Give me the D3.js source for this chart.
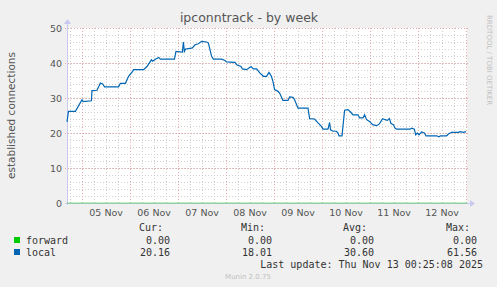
<!DOCTYPE html>
<html lang='en'>
<head>
<meta charset='utf-8'>
<script src='https://cdnjs.cloudflare.com/ajax/libs/d3/7.8.5/d3.min.js'></script>
<title>ipconntrack - by week</title>
<style>
body { margin:0; background:#f0f0f0; overflow:hidden; }
text { font-family:'DejaVu Sans', sans-serif; }
.mono { font-family:'DejaVu Sans Mono', monospace; font-size:10px; fill:#333; }
</style>
</head>
<body>
<script>
// hours after the graph start (Nov 4 16:25 UTC), and the "local" value there
var hrs = [0, 0.75, 4.2, 7.5, 8, 12.2, 12.5, 15, 16.7, 17.8, 18.8, 25.8, 26.7, 29.2, 30.8, 32.8, 33.3, 38.3,
   40, 42.2, 42.8, 44.2, 45.8, 46.7, 53.7, 54.5, 57.7, 58.2, 58.7, 59.3, 61.5, 62.7, 64, 65.7, 67.3, 69.8,
   70.7, 72.3, 73.2, 77.3, 79, 79.8, 84, 84.8, 87, 87.7, 89.8, 92, 93.2, 94.8, 96.5, 98.2, 99.8, 101, 102.2,
   103, 103.8, 105.5, 106.3, 108, 110.5, 111.3, 113, 113.8, 115.5, 120.5, 121.3, 123.8, 125.5, 127.2, 128,
   130.5, 131.3, 131.8, 133, 134.7, 135.5, 136, 137.5, 138.8, 140.5, 141.8, 143, 145.5, 146.3, 148, 148.8,
   149.8, 151.3, 152.8, 154.8, 156.2, 157.8, 159, 160.2, 161.2, 162, 163.2, 164, 164.8, 171.5, 172.3, 173.7,
   174.3, 175.2, 176, 177.3, 178.7, 179.5, 184.8, 186, 186.8, 189.8, 190.7, 192.3, 195.7, 196.5, 198.2, 199.5];
var local = [23.2, 26.2, 26.2, 29.5, 29.0, 29.2, 32.1, 32.2, 34.3, 34.0, 33.2, 33.2, 34.2, 34.2, 36.2, 37.6, 38.1, 38.1,
   39.0, 40.9, 40.5, 41.1, 41.6, 41.1, 41.1, 43.3, 43.1, 46.0, 43.3, 44.0, 44.2, 44.3, 45.2, 45.5, 46.2, 46.0,
   45.7, 41.9, 41.1, 41.1, 40.7, 40.3, 40.2, 39.5, 39.0, 38.3, 38.1, 39.0, 38.3, 38.3, 37.1, 36.2, 36.2, 37.3, 36.2,
   34.7, 32.4, 31.9, 31.4, 29.3, 29.3, 30.3, 30.2, 29.5, 27.1, 27.1, 24.1, 24.0, 22.9, 21.9, 21.1,
   21.1, 23.0, 20.9, 20.5, 20.5, 20.0, 19.2, 19.2, 26.5, 26.7, 26.0, 25.2, 25.2, 24.3, 24.3, 25.2,
   23.8, 23.3, 22.4, 22.1, 22.6, 24.1, 23.8, 23.6, 24.1, 22.7, 22.4, 21.4, 21.1, 21.1, 21.4, 21.1,
   19.5, 20.0, 19.5, 20.3, 20.0, 19.2, 19.2, 18.9, 19.2, 19.2, 19.7, 20.2, 20.2, 20.4, 20.2, 20.4];
var fwdHrs = [0, 200];
var forward = [0, 0];

var dayLabels = ['05 Nov', '06 Nov', '07 Nov', '08 Nov', '09 Nov', '10 Nov', '11 Nov', '12 Nov'];
var yTicks = [0, 10, 20, 30, 40, 50];
var seriesNames = ['forward', 'local'];
var seriesColors = ['#00cc00', '#0066b3'];
var curVals = ['0.00', '20.16'];
var minVals = ['0.00', '18.01'];
var avgVals = ['0.00', '30.60'];
var maxVals = ['0.00', '61.56'];

var W = 497, H = 287;
var pL = 67, pR = 467, pT = 28, pB = 203;
var t0 = new Date(Date.UTC(2025, 10, 4, 16, 25));
var t1 = new Date(Date.UTC(2025, 10, 13, 0, 25));
function toTime(h) { return new Date(t0.getTime() + h * 3600000); }

var x = d3.scaleUtc().domain([t0, t1]).range([pL, pR]);
var y = d3.scaleLinear().domain([0, 50]).range([pB, pT]);

var svg = d3.select('body').append('svg').attr('width', W).attr('height', H);
svg.append('rect').attr('width', W).attr('height', H).attr('fill', '#f0f0f0');
svg.append('rect').attr('x', pL).attr('y', pT).attr('width', pR - pL).attr('height', pB - pT).attr('fill', '#fff');

// minor grid
var g = svg.append('g').attr('shape-rendering', 'crispEdges');
var minorX = d3.utcHour.every(6).range(t0, t1);
g.selectAll('.mx').data(minorX).enter().append('line')
   .attr('x1', function(d){return Math.round(x(d)) + 0.5;}).attr('x2', function(d){return Math.round(x(d)) + 0.5;})
   .attr('y1', pT).attr('y2', pB)
   .style('stroke', '#cfcfcf').style('stroke-dasharray', '1,2');
g.selectAll('.my').data(d3.range(2, 50, 2)).enter().append('line')
   .attr('x1', pL).attr('x2', pR)
   .attr('y1', function(d){return Math.round(y(d)) + 0.5;}).attr('y2', function(d){return Math.round(y(d)) + 0.5;})
   .style('stroke', '#cfcfcf').style('stroke-dasharray', '1,2');
// major grid
var days = d3.utcDay.range(t0, t1);
g.selectAll('.Mx').data(days).enter().append('line')
   .attr('x1', function(d){return Math.round(x(d)) + 0.5;}).attr('x2', function(d){return Math.round(x(d)) + 0.5;})
   .attr('y1', pT).attr('y2', pB + 2)
   .style('stroke', '#e8acac').style('stroke-dasharray', '1,2');
g.selectAll('.My').data(yTicks.slice(1)).enter().append('line')
   .attr('x1', pL - 2).attr('x2', pR + 1)
   .attr('y1', function(d){return Math.round(y(d)) + 0.5;}).attr('y2', function(d){return Math.round(y(d)) + 0.5;})
   .style('stroke', '#e8acac').style('stroke-dasharray', '1,2');

// axes
g.append('line').attr('x1', pL + 0.5).attr('x2', pL + 0.5).attr('y1', pB + 2).attr('y2', pT - 5).style('stroke', '#c8c8f0');
g.append('line').attr('x1', pL - 2).attr('x2', pR + 3).attr('y1', pB + 0.5).attr('y2', pB + 0.5).style('stroke', '#c8c8f0');
svg.append('path').attr('d', 'M' + (pL - 3) + ',' + (pT - 4) + 'L' + (pL + 0.5) + ',' + (pT - 9) + 'L' + (pL + 4) + ',' + (pT - 4) + 'Z').attr('fill', '#c8c8f0');
svg.append('path').attr('d', 'M' + (pR + 3) + ',' + (pB - 3) + 'L' + (pR + 8) + ',' + (pB + 0.5) + 'L' + (pR + 3) + ',' + (pB + 4) + 'Z').attr('fill', '#c8c8f0');

// y tick labels
svg.selectAll('.yl').data(yTicks).enter().append('text')
   .attr('x', pL - 5).attr('y', function(d){return y(d) + 3.5;})
   .attr('text-anchor', 'end').style('font-size', '9.5px').style('fill', '#555')
   .text(function(d){return d;});
// x tick labels, centred on noon of each day
svg.selectAll('.xl').data(days).enter().append('text')
   .attr('x', function(d){return x(d3.utcHour.offset(d, 12));}).attr('y', 215.5)
   .attr('text-anchor', 'middle').style('font-size', '9.5px').style('fill', '#555')
   .text(function(d, i){return dayLabels[i];});

// series
var line = d3.line().x(function(d){return x(toTime(d[0]));}).y(function(d){return y(d[1]);});
svg.append('path').datum(d3.zip(fwdHrs, forward)).attr('d', line)
   .attr('fill', 'none').style('stroke', seriesColors[0]).style('stroke-width', 1).style('opacity', 0.5);
svg.append('path').datum(d3.zip(hrs, local)).attr('d', line)
   .attr('fill', 'none').style('stroke', seriesColors[1]).style('stroke-width', 1.2);

// title and labels
svg.append('text').attr('x', 249).attr('y', 22).attr('text-anchor', 'middle')
   .style('font-size', '12.5px').style('fill', '#555').text('ipconntrack - by week');
svg.append('text').attr('transform', 'translate(15,' + ((pT + pB) / 2) + ') rotate(-90)')
   .attr('text-anchor', 'middle').style('font-size', '10.5px').style('fill', '#555').text('established connections');
svg.append('text').attr('transform', 'translate(487,15) rotate(90)')
   .style('font-size', '7px').style('fill', '#c0c0c0').text('RRDTOOL / TOBI OETIKER');

// legend
var cols = [{x: 170, t: 'Cur:', v: curVals}, {x: 272, t: 'Min:', v: minVals}, {x: 374, t: 'Avg:', v: avgVals}, {x: 477, t: 'Max:', v: maxVals}];
cols.forEach(function(c) {
   svg.append('text').attr('class', 'mono').attr('x', c.x - 7).attr('y', 231).attr('text-anchor', 'end').text(c.t);
   c.v.forEach(function(v, i) {
      svg.append('text').attr('class', 'mono').attr('x', c.x).attr('y', 244 + i * 12).attr('text-anchor', 'end').text(v);
   });
});
seriesNames.forEach(function(n, i) {
   svg.append('rect').attr('x', 14).attr('y', 237 + i * 12).attr('width', 6).attr('height', 6).attr('fill', seriesColors[i]);
   svg.append('text').attr('class', 'mono').attr('x', 26).attr('y', 244 + i * 12).text(n);
});
svg.append('text').attr('class', 'mono').attr('x', 483).attr('y', 268).attr('text-anchor', 'end')
   .text('Last update: Thu Nov 13 00:25:08 2025');
svg.append('text').attr('x', 248).attr('y', 279).attr('text-anchor', 'middle')
   .style('font-size', '7px').style('fill', '#c0c0c0').text('Munin 2.0.75');
</script>
</body>
</html>
